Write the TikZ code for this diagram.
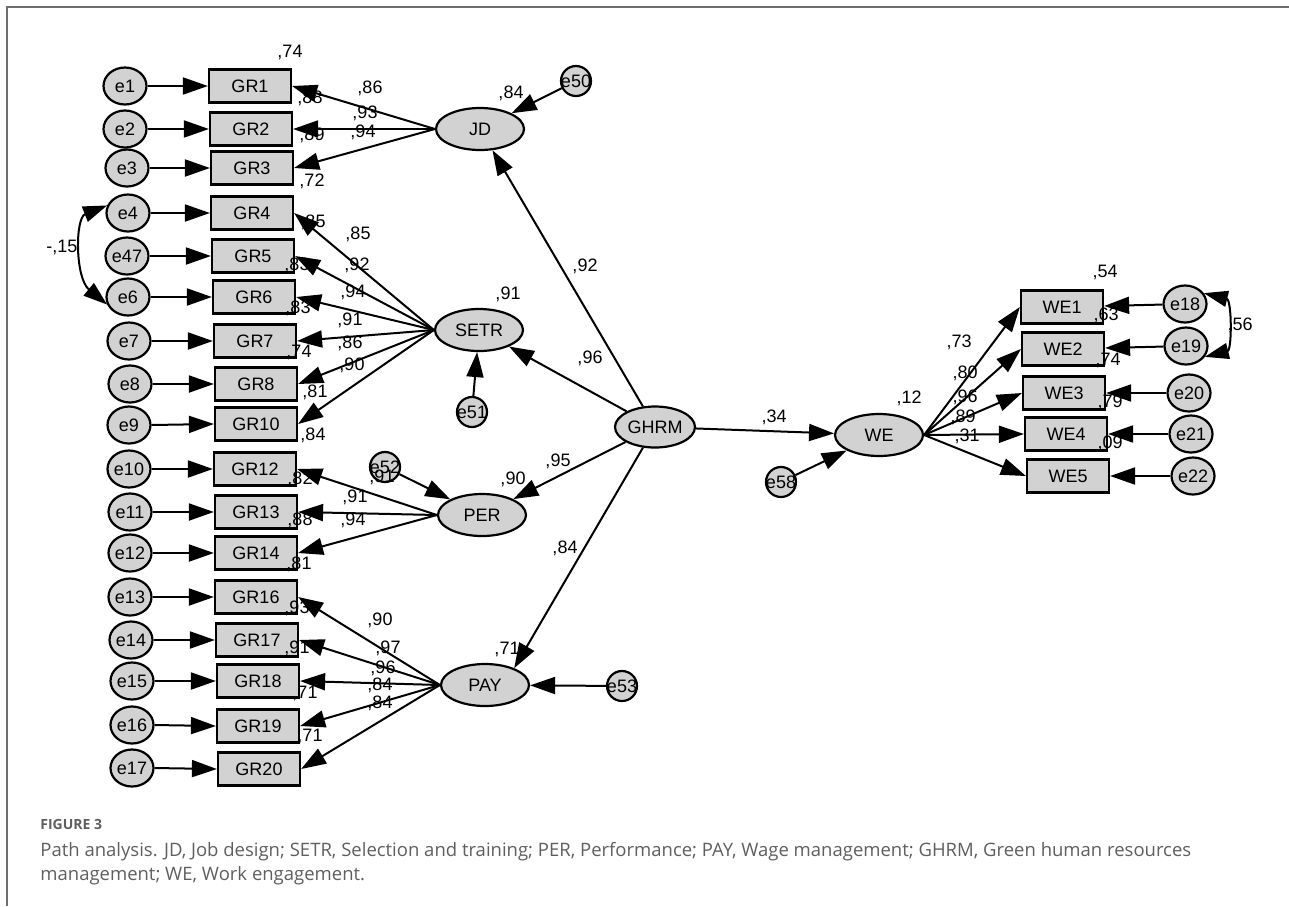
\documentclass[tikz,border=0pt]{standalone}
\usepackage{fontspec}
\setmainfont{Liberation Sans}
\newfontfamily\capfont{Open Sans}
\usetikzlibrary{shapes.geometric,arrows.meta}
\definecolor{ngray}{RGB}{210,210,210}
\definecolor{capgray}{RGB}{95,95,95}
\definecolor{framegray}{RGB}{110,110,110}
\tikzset{
 basenode/.style={draw=black, line width=1.1pt, fill=ngray, inner sep=0pt, font=\fontsize{9}{10}\selectfont},
 obs/.style={basenode, rectangle, minimum width=41pt, minimum height=16.5pt},
 err/.style={basenode, ellipse, minimum width=21.5pt, minimum height=18.5pt},
 errs/.style={basenode, circle, minimum size=15pt, inner sep=-1pt},
 lat/.style={basenode, ellipse, minimum width=44pt, minimum height=21pt},
 pathar/.style={line width=1pt, -{Triangle[length=12.5pt,width=8.5pt]}},
 covar/.style={line width=1pt, {Triangle[length=12pt,width=8pt]}-{Triangle[length=12pt,width=8pt]}},
 lab/.style={inner sep=0pt, font=\fontsize{9}{10}\selectfont},
 captxt/.style={anchor=base west, inner sep=0pt, text=capgray, font=\capfont\fontsize{9.25}{11}\selectfont},
}
\begin{document}
\begin{tikzpicture}[x=0.5pt,y=-0.5pt]
\useasboundingbox (0,0) rectangle (1289,906);
\fill[white] (0,0) rectangle (1289,906);
\draw[framegray, line width=1pt] (1289,7) -- (7,7) -- (7,906);

% ---------- observed variables ----------
\node[obs] (GR1) at (250,86) {GR1};
\node[obs] (GR2) at (251,129) {GR2};
\node[obs] (GR3) at (252,168) {GR3};
\node[obs] (GR4) at (252,213) {GR4};
\node[obs] (GR5) at (253,256) {GR5};
\node[obs] (GR6) at (254,297) {GR6};
\node[obs] (GR7) at (255,341) {GR7};
\node[obs] (GR8) at (256,384) {GR8};
\node[obs] (GR10) at (256,424) {GR10};
\node[obs] (GR12) at (255,469) {GR12};
\node[obs] (GR13) at (256,512) {GR13};
\node[obs] (GR14) at (256,553) {GR14};
\node[obs] (GR16) at (256,597) {GR16};
\node[obs] (GR17) at (257,640) {GR17};
\node[obs] (GR18) at (258,681) {GR18};
\node[obs] (GR19) at (258,726) {GR19};
\node[obs] (GR20) at (259,769) {GR20};
\node[obs] (WE1) at (1062,307) {WE1};
\node[obs] (WE2) at (1063,349) {WE2};
\node[obs] (WE3) at (1064,393) {WE3};
\node[obs] (WE4) at (1066,434) {WE4};
\node[obs] (WE5) at (1068,476) {WE5};

% ---------- error terms ----------
\node[err] (e1) at (125,86) {e1};
\node[err] (e2) at (125,129) {e2};
\node[err] (e3) at (127,168) {e3};
\node[err] (e4) at (128,213) {e4};
\node[err] (e47) at (127,256) {e47};
\node[err] (e6) at (128,297) {e6};
\node[err] (e7) at (129,341) {e7};
\node[err] (e8) at (130,384) {e8};
\node[err] (e9) at (129,425) {e9};
\node[err] (e10) at (129,469) {e10};
\node[err] (e11) at (130,512) {e11};
\node[err] (e12) at (130,553) {e12};
\node[err] (e13) at (130,597) {e13};
\node[err] (e14) at (131,640) {e14};
\node[err] (e15) at (132,681) {e15};
\node[err] (e16) at (132,725) {e16};
\node[err] (e17) at (132,768) {e17};
\node[err] (e18) at (1185,304) {e18};
\node[err] (e19) at (1186,346) {e19};
\node[err] (e20) at (1189,393) {e20};
\node[err] (e21) at (1191,434) {e21};
\node[err] (e22) at (1193,476) {e22};
\node[errs] (e50) at (576,81) {e50};
\node[errs] (e51) at (472,412) {e51};
\node[errs] (e52) at (385,467) {e52};
\node[errs] (e53) at (622,686) {e53};
\node[errs] (e58) at (781,482) {e58};

% ---------- latent variables ----------
\node[lat] (JD) at (480,129) {JD};
\node[lat] (SETR) at (479,330) {SETR};
\node[lat] (PER) at (482,515) {PER};
\node[lat] (PAY) at (485,685) {PAY};
\node[lat, minimum width=40pt, minimum height=20.5pt] (GHRM) at (655,427) {GHRM};
\node[lat] (WE) at (879,435) {WE};

% ---------- labels ----------
\node[lab] (l01) at (290,52) {,74};
\node[lab] (l02) at (370,88) {,86};
\node[lab] (l03) at (310,98) {,88};
\node[lab] (l04) at (365,113) {,93};
\node[lab] (l05) at (363,132) {,94};
\node[lab] (l06) at (312,135) {,89};
\node[lab] (l07) at (312,181) {,72};
\node[lab] (l08) at (511,93) {,84};
\node[lab] (l09) at (313,222) {,85};
\node[lab] (l10) at (358,234) {,85};
\node[lab] (l11) at (357,265) {,92};
\node[lab] (l12) at (297,265) {,83};
\node[lab] (l13) at (353,292) {,94};
\node[lab] (l14) at (298,308) {,83};
\node[lab] (l15) at (350,320) {,91};
\node[lab] (l16) at (350,343) {,86};
\node[lab] (l17) at (299,352) {,74};
\node[lab] (l18) at (352,365) {,90};
\node[lab] (l19) at (315,392) {,81};
\node[lab] (l20) at (313,435) {,84};
\node[lab] (l21) at (508,294) {,91};
\node[lab] (l22) at (585,266) {,92};
\node[lab] (l23) at (590,358) {,96};
\node[lab] (l24) at (558,461) {,95};
\node[lab] (l25) at (513,479) {,90};
\node[lab] (l26) at (300,479) {,82};
\node[lab] (l27) at (382,477) {,91};
\node[lab] (l28) at (355,497) {,91};
\node[lab] (l29) at (300,520) {,88};
\node[lab] (l30) at (353,520) {,94};
\node[lab] (l31) at (299,564) {,81};
\node[lab] (l32) at (565,548) {,84};
\node[lab] (l33) at (507,649) {,71};
\node[lab] (l34) at (297,608) {,93};
\node[lab] (l35) at (380,620) {,90};
\node[lab] (l36) at (297,648) {,91};
\node[lab] (l37) at (388,648) {,97};
\node[lab] (l38) at (383,668) {,96};
\node[lab] (l39) at (305,693) {,71};
\node[lab] (l40) at (380,685) {,84};
\node[lab] (l41) at (380,703) {,84};
\node[lab] (l42) at (310,736) {,71};
\node[lab] (l43) at (774,417) {,34};
\node[lab] (l44) at (909,398) {,12};
\node[lab] (l45) at (1105,272) {,54};
\node[lab] (l46) at (959,342) {,73};
\node[lab] (l47) at (965,373) {,80};
\node[lab] (l48) at (965,397) {,96};
\node[lab] (l49) at (963,417) {,89};
\node[lab] (l50) at (967,436) {,31};
\node[lab] (l51) at (1106,315) {,63};
\node[lab] (l52) at (1108,360) {,74};
\node[lab] (l53) at (1110,402) {,79};
\node[lab] (l54) at (1110,443) {,09};
\node[lab] (l55) at (1240,325) {,56};
\node[lab] (l56) at (62,247) {-,15};

% ---------- error -> indicator ----------
\foreach \e/\g in {e1/GR1,e2/GR2,e3/GR3,e4/GR4,e47/GR5,e6/GR6,e7/GR7,e8/GR8,e9/GR10,
  e10/GR12,e11/GR13,e12/GR14,e13/GR16,e14/GR17,e15/GR18,e16/GR19,e17/GR20}
  \draw[pathar] (\e.east) -- (\g.west);
\foreach \e/\g in {e18/WE1,e19/WE2,e20/WE3,e21/WE4,e22/WE5}
  \draw[pathar] (\e) -- (\g);

% ---------- loadings ----------
\foreach \g in {GR1,GR2,GR3} \draw[pathar] (JD.west) -- (\g.east);
\foreach \g in {GR4,GR5,GR6,GR7,GR8,GR10} \draw[pathar] (SETR.west) -- (\g.east);
\foreach \g in {GR12,GR13,GR14} \draw[pathar] (PER.west) -- (\g.east);
\foreach \g in {GR16,GR17,GR18,GR19,GR20} \draw[pathar] (PAY.west) -- (\g.east);
\foreach \g in {WE1,WE2,WE3,WE4,WE5} \draw[pathar] (WE.east) -- (\g.west);

% ---------- structural paths ----------
\draw[pathar] (GHRM) -- (JD);
\draw[pathar] (GHRM) -- (SETR);
\draw[pathar] (GHRM) -- (PER);
\draw[pathar] (GHRM) -- (PAY.30);
\draw[pathar] (GHRM) -- (WE);
\draw[pathar] (e50) -- (JD);
\draw[pathar] (e51) -- (SETR);
\draw[pathar] (e52) -- (PER);
\draw[pathar] (e53) -- (PAY);
\draw[pathar] (e58) -- (WE);

% ---------- covariances ----------
\draw[covar] (e4.160) .. controls (75,218) and (75,278) .. (e6.200);
\draw[covar] (e18.30) .. controls (1232,300) and (1232,350) .. (e19.-30);

% ---------- caption ----------
\node[captxt, font=\capfont\bfseries\fontsize{7}{8}\selectfont] (fig) at (40,829) {FIGURE 3};
\node[captxt] (cap1) at (40,856) {Path analysis. JD, Job design; SETR, Selection and training; PER, Performance; PAY, Wage management; GHRM, Green human resources};
\node[captxt] (cap2) at (40,880) {management; WE, Work engagement.};
\end{tikzpicture}
\end{document}
